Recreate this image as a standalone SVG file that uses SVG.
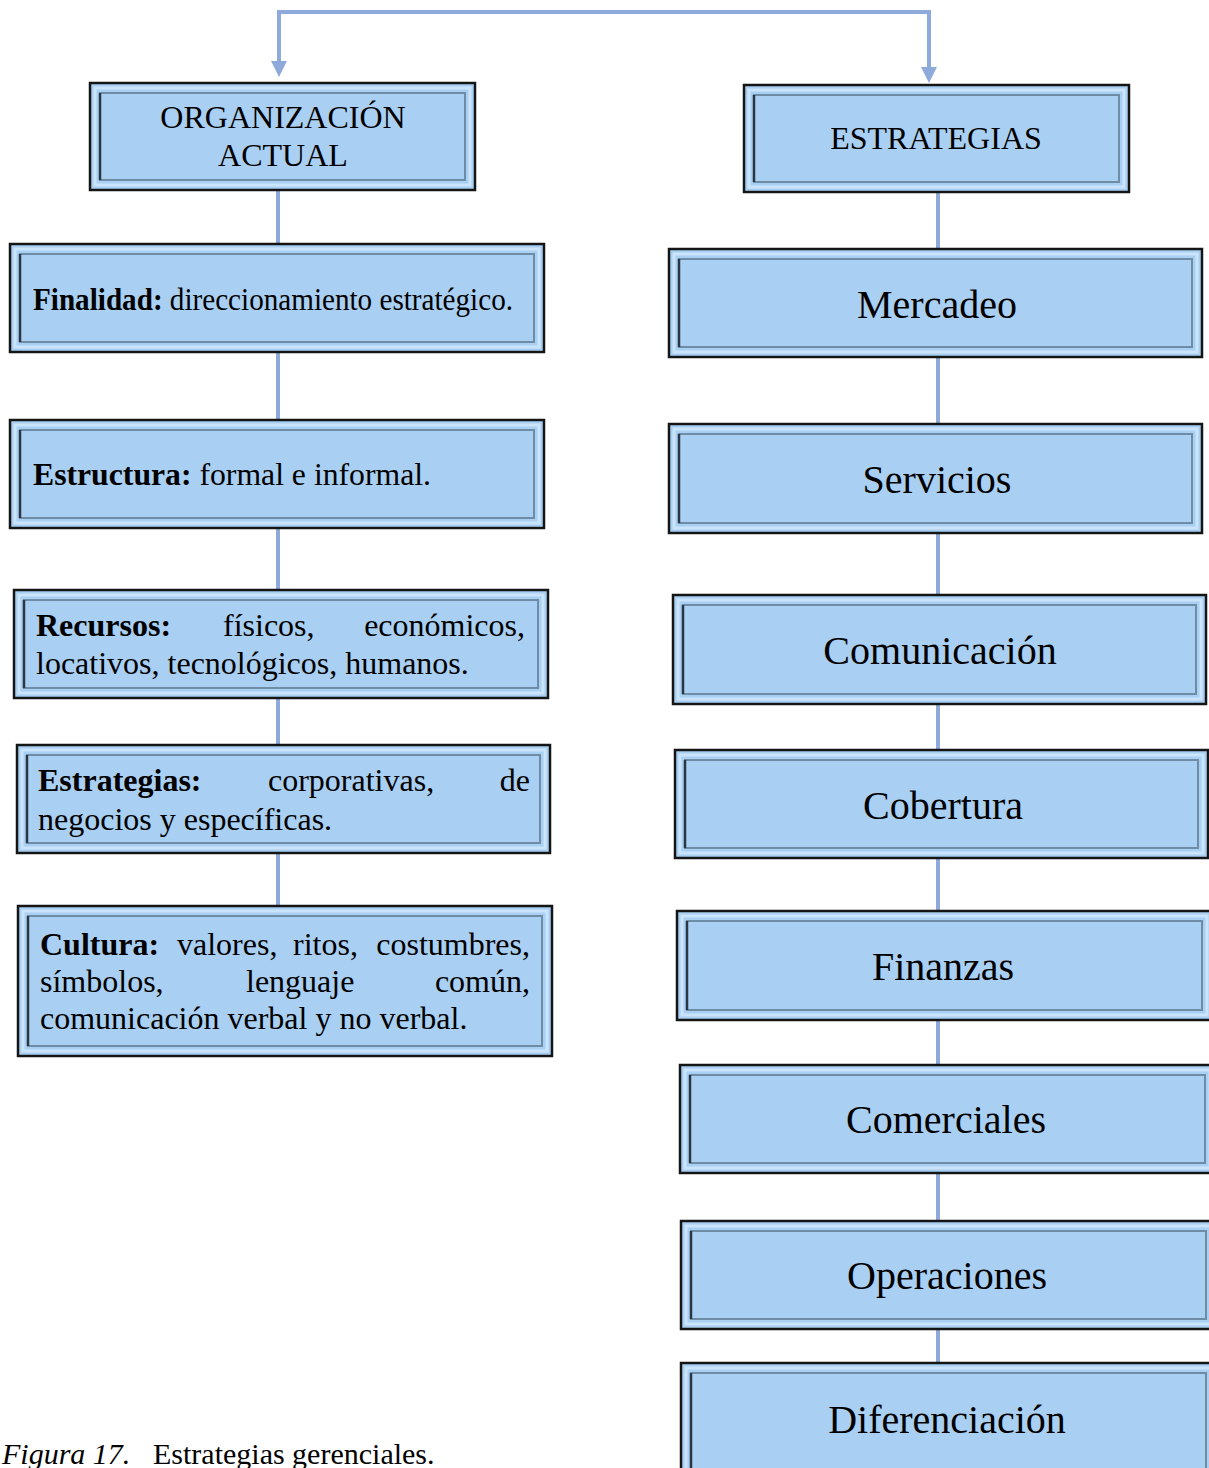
<svg xmlns="http://www.w3.org/2000/svg" width="1209" height="1468" viewBox="0 0 1209 1468">
<style>
.o{fill:#a9cff3;stroke:#151515;stroke-width:2.5}
.h{fill:none;stroke:#c9e4fb;stroke-width:3}
.i{fill:none;stroke:#6f8ca6;stroke-width:2}
.d{stroke:#2a3642;stroke-width:2.5}
.c{fill:none;stroke:#8eaadb;stroke-width:4}
.a{fill:#8eaadb}
text{font-family:"Liberation Serif","Times New Roman",serif;fill:#000}
.t{font-size:32px}
.b{font-weight:bold}
.L{font-size:40px;text-anchor:middle}
.H{font-size:32px;text-anchor:middle}
</style>
<g id="connectors">
<path class="c" d="M929,68 L929,12 L279,12 L279,62"/>
<polygon class="a" points="271,61 287,61 279,77"/>
<polygon class="a" points="921,67 937,67 929,83"/>
<line class="c" x1="278" y1="190" x2="278" y2="905"/>
<line class="c" x1="938" y1="192" x2="938" y2="1362"/>
</g>
<g id="org">
<rect class="o" x="90" y="83" width="385" height="107"/>
<rect class="h" x="95" y="88" width="375" height="97"/>
<rect class="i" x="100" y="93" width="365" height="87"/>
<line class="d" x1="100" y1="93" x2="100" y2="180"/>
<text class="H" x="283" y="128">ORGANIZACIÓN</text>
<text class="H" x="283" y="166">ACTUAL</text>
</g>
<g id="finalidad">
<rect class="o" x="10" y="244" width="534" height="108"/>
<rect class="h" x="15" y="249" width="524" height="98"/>
<rect class="i" x="20" y="254" width="514" height="88"/>
<line class="d" x1="20" y1="254" x2="20" y2="342"/>
<text class="t" x="33" y="310" textLength="480" lengthAdjust="spacingAndGlyphs"><tspan class="b">Finalidad:</tspan> direccionamiento estratégico.</text>
</g>
<g id="estructura">
<rect class="o" x="10" y="420" width="534" height="108"/>
<rect class="h" x="15" y="425" width="524" height="98"/>
<rect class="i" x="20" y="430" width="514" height="88"/>
<line class="d" x1="20" y1="430" x2="20" y2="518"/>
<text class="t" x="33" y="485" textLength="398" lengthAdjust="spacingAndGlyphs"><tspan class="b">Estructura:</tspan> formal e informal.</text>
</g>
<g id="recursos">
<rect class="o" x="14" y="590" width="534" height="108"/>
<rect class="h" x="19" y="595" width="524" height="98"/>
<rect class="i" x="24" y="600" width="514" height="88"/>
<line class="d" x1="24" y1="600" x2="24" y2="688"/>
<text class="t b" x="36" y="636">Recursos:</text>
<text class="t" x="223" y="636">físicos,</text>
<text class="t" x="525" y="636" text-anchor="end">económicos,</text>
<text class="t" x="36" y="674">locativos, tecnológicos, humanos.</text>
</g>
<g id="estrategias-l">
<rect class="o" x="17" y="745" width="533" height="108"/>
<rect class="h" x="22" y="750" width="523" height="98"/>
<rect class="i" x="27" y="755" width="513" height="88"/>
<line class="d" x1="27" y1="755" x2="27" y2="843"/>
<text class="t b" x="38" y="791">Estrategias:</text>
<text class="t" x="268" y="791">corporativas,</text>
<text class="t" x="530" y="791" text-anchor="end">de</text>
<text class="t" x="38" y="830">negocios y específicas.</text>
</g>
<g id="cultura">
<rect class="o" x="18" y="906" width="534" height="150"/>
<rect class="h" x="23" y="911" width="524" height="140"/>
<rect class="i" x="28" y="916" width="514" height="130"/>
<line class="d" x1="28" y1="916" x2="28" y2="1046"/>
<text class="t b" x="40" y="955">Cultura:</text>
<text class="t" x="177" y="955">valores,</text>
<text class="t" x="293" y="955">ritos,</text>
<text class="t" x="530" y="955" text-anchor="end">costumbres,</text>
<text class="t" x="40" y="992">símbolos,</text>
<text class="t" x="246" y="992">lenguaje</text>
<text class="t" x="530" y="992" text-anchor="end">común,</text>
<text class="t" x="40" y="1029">comunicación verbal y no verbal.</text>
</g>
<g id="estrategias">
<rect class="o" x="744" y="85" width="385" height="107"/>
<rect class="h" x="749" y="90" width="375" height="97"/>
<rect class="i" x="754" y="95" width="365" height="87"/>
<line class="d" x1="754" y1="95" x2="754" y2="182"/>
<text class="H" x="936" y="149">ESTRATEGIAS</text>
</g>
<g id="mercadeo">
<rect class="o" x="669" y="249" width="533" height="108"/>
<rect class="h" x="674" y="254" width="523" height="98"/>
<rect class="i" x="679" y="259" width="513" height="88"/>
<line class="d" x1="679" y1="259" x2="679" y2="347"/>
<text class="L" x="937" y="318">Mercadeo</text>
</g>
<g id="servicios">
<rect class="o" x="669" y="424" width="533" height="109"/>
<rect class="h" x="674" y="429" width="523" height="99"/>
<rect class="i" x="679" y="434" width="513" height="89"/>
<line class="d" x1="679" y1="434" x2="679" y2="523"/>
<text class="L" x="937" y="493">Servicios</text>
</g>
<g id="comunicacion">
<rect class="o" x="673" y="595" width="533" height="109"/>
<rect class="h" x="678" y="600" width="523" height="99"/>
<rect class="i" x="683" y="605" width="513" height="89"/>
<line class="d" x1="683" y1="605" x2="683" y2="694"/>
<text class="L" x="940" y="664">Comunicación</text>
</g>
<g id="cobertura">
<rect class="o" x="675" y="750" width="533" height="108"/>
<rect class="h" x="680" y="755" width="523" height="98"/>
<rect class="i" x="685" y="760" width="513" height="88"/>
<line class="d" x1="685" y1="760" x2="685" y2="848"/>
<text class="L" x="943" y="819">Cobertura</text>
</g>
<g id="finanzas">
<rect class="o" x="677" y="911" width="535" height="109"/>
<rect class="h" x="682" y="916" width="525" height="99"/>
<rect class="i" x="687" y="921" width="515" height="89"/>
<line class="d" x1="687" y1="921" x2="687" y2="1010"/>
<text class="L" x="943" y="980">Finanzas</text>
</g>
<g id="comerciales">
<rect class="o" x="680" y="1065" width="535" height="108"/>
<rect class="h" x="685" y="1070" width="525" height="98"/>
<rect class="i" x="690" y="1075" width="515" height="88"/>
<line class="d" x1="690" y1="1075" x2="690" y2="1163"/>
<text class="L" x="946" y="1133">Comerciales</text>
</g>
<g id="operaciones">
<rect class="o" x="681" y="1221" width="535" height="108"/>
<rect class="h" x="686" y="1226" width="525" height="98"/>
<rect class="i" x="691" y="1231" width="515" height="88"/>
<line class="d" x1="691" y1="1231" x2="691" y2="1319"/>
<text class="L" x="947" y="1289">Operaciones</text>
</g>
<g id="diferenciacion">
<rect class="o" x="681" y="1363" width="535" height="120"/>
<rect class="h" x="686" y="1368" width="525" height="110"/>
<rect class="i" x="691" y="1373" width="515" height="100"/>
<line class="d" x1="691" y1="1373" x2="691" y2="1473"/>
<text class="L" x="947" y="1433">Diferenciación</text>
</g>
<text x="2" y="1464" style="font-size:30px"><tspan font-style="italic">Figura 17.</tspan><tspan x="153">Estrategias gerenciales.</tspan></text>
</svg>
